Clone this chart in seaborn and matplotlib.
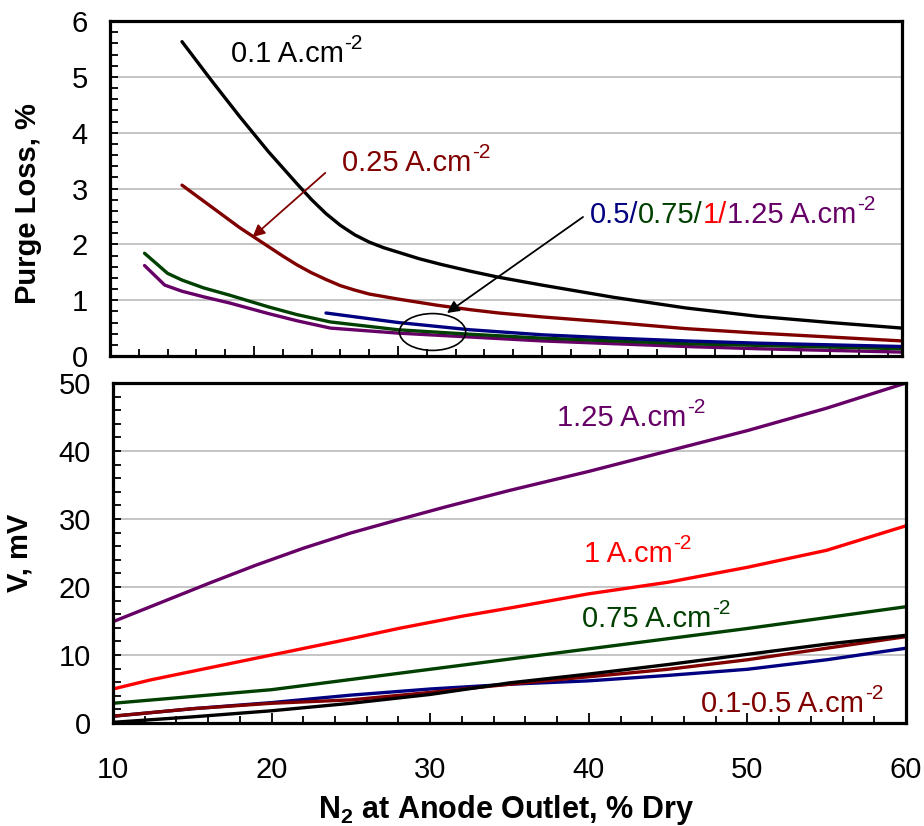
import numpy as np
import pandas as pd
import matplotlib
matplotlib.use("Agg")
import matplotlib.pyplot as plt
import seaborn as sns
from matplotlib.patches import Ellipse
from matplotlib.ticker import FixedLocator

# ---------------- data: top panel (purge loss, %) ----------------
top_x_01 = [10, 12, 14, 16, 17, 18, 19, 20, 21, 22, 23, 24, 25, 26.5, 28, 30, 32, 35, 40, 45, 50, 55, 60]
top_y_01 = [5.63, 4.95, 4.29, 3.66, 3.37, 3.08, 2.80, 2.55, 2.34, 2.17, 2.04, 1.94, 1.86, 1.74, 1.64,
            1.52, 1.41, 1.27, 1.05, 0.86, 0.71, 0.60, 0.50]

top_x_025 = [10, 12, 14, 15, 16, 17, 18, 19, 20, 21, 22, 23, 25, 27.7, 30, 32, 35, 40, 45, 50, 55, 60]
top_y_025 = [3.06, 2.68, 2.30, 2.13, 1.96, 1.79, 1.63, 1.49, 1.37, 1.26, 1.18, 1.11, 1.02, 0.91, 0.83,
             0.77, 0.70, 0.60, 0.49, 0.41, 0.34, 0.27]

top_x_05 = [20, 25, 30, 35, 40, 45, 50, 55, 60]
top_y_05 = [0.77, 0.60, 0.47, 0.38, 0.32, 0.27, 0.23, 0.20, 0.17]

top_x_075 = [7.4, 9.0, 10, 11.5, 13.3, 16, 18, 20.3, 25, 30, 35, 40, 45, 50, 55, 60]
top_y_075 = [1.84, 1.48, 1.36, 1.22, 1.09, 0.88, 0.74, 0.61, 0.47, 0.39, 0.32, 0.27, 0.22, 0.19, 0.16, 0.13]

top_x_125 = [7.4, 8.8, 10, 11.5, 13.3, 16, 18, 20.3, 25, 30, 35, 40, 45, 50, 55, 60]
top_y_125 = [1.62, 1.27, 1.16, 1.06, 0.95, 0.76, 0.63, 0.50, 0.41, 0.34, 0.27, 0.22, 0.17, 0.13, 0.10, 0.07]

# ---------------- data: bottom panel (V, mV) ----------------
bot_x = [10, 15, 20, 25, 30, 35, 40, 45, 50, 55, 60]
bot_y_01 = [0.1, 0.9, 1.8, 2.9, 4.2, 5.9, 7.2, 8.6, 10.1, 11.6, 12.9]
bot_y_025 = [1.0, 2.1, 2.9, 3.4, 4.5, 5.7, 6.8, 7.9, 9.3, 11.0, 12.7]
bot_y_05 = [1.0, 2.1, 3.0, 4.1, 5.0, 5.7, 6.2, 7.0, 7.9, 9.3, 11.0]
bot_y_075 = [2.9, 3.9, 4.9, 6.4, 7.9, 9.4, 10.9, 12.4, 13.9, 15.5, 17.1]

bot_x_1 = [10, 12.3, 15, 20, 25, 28, 32, 35, 40, 45, 50, 55, 60]
bot_y_1 = [5.0, 6.3, 7.6, 10.0, 12.4, 13.9, 15.7, 16.9, 19.0, 20.7, 22.9, 25.4, 29.0]

bot_x_125 = [10, 13, 16, 19, 22, 25, 28, 31, 35, 40, 45, 50, 55, 60]
bot_y_125 = [14.9, 17.7, 20.5, 23.2, 25.7, 27.95, 29.9, 31.8, 34.2, 37.0, 40.0, 43.0, 46.3, 50.0]

top_yticks = [0, 1, 2, 3, 4, 5, 6]
bot_yticks = [0, 10, 20, 30, 40, 50]
bot_xticks = [10, 20, 30, 40, 50, 60]

# ---------------- style ----------------
sns.set_style("white")
plt.rcParams['font.family'] = ['Liberation Sans', 'DejaVu Sans']
plt.rcParams['mathtext.default'] = 'regular'
for k in ('text.color', 'axes.labelcolor', 'xtick.color', 'ytick.color'):
    plt.rcParams[k] = 'black'

C_BLACK = '#000000'
C_DRED = '#800000'
C_BLUE = '#000080'
C_GREEN = '#004000'
C_RED = '#ff0000'
C_PURP = '#660066'
LW = 2.4
FS = 21
TFS = 21
SFS = 15

fig = plt.figure(figsize=(9.24, 8.26), dpi=100)
ax1 = fig.add_axes([110/924, 1-356/826, 792/924, 335/826])
ax2 = fig.add_axes([113/924, 1-723/826, 793/924, 340/826])

def line(ax, xs, ys, c):
    df = pd.DataFrame({'x': xs, 'y': ys})
    sns.lineplot(data=df, x='x', y='y', ax=ax, color=c, lw=LW, sort=False,
                 estimator=None, legend=False)

# top panel
line(ax1, top_x_125, top_y_125, C_PURP)
line(ax1, top_x_075, top_y_075, C_GREEN)
line(ax1, top_x_05, top_y_05, C_BLUE)
line(ax1, top_x_025, top_y_025, C_DRED)
line(ax1, top_x_01, top_y_01, C_BLACK)

# bottom panel
line(ax2, bot_x_125, bot_y_125, C_PURP)
line(ax2, bot_x_1, bot_y_1, C_RED)
line(ax2, bot_x, bot_y_075, C_GREEN)
line(ax2, bot_x, bot_y_05, C_BLUE)
line(ax2, bot_x, bot_y_025, C_DRED)
line(ax2, bot_x, bot_y_01, C_BLACK)

# axes formatting
ax1.set_xlim(5, 60)
ax1.set_ylim(0, 6)
ax2.set_xlim(10, 60)
ax2.set_ylim(0, 50)

for ax in (ax1, ax2):
    for s in ax.spines.values():
        s.set_visible(True)
        s.set_linewidth(2.3)
        s.set_color('black')
    ax.set_axisbelow(True)

ax1.yaxis.set_major_locator(FixedLocator(top_yticks))
ax1.yaxis.set_minor_locator(FixedLocator(np.arange(0, 6.01, 0.2)))
ax1.xaxis.set_major_locator(FixedLocator(np.arange(5, 61, 10)))
ax1.xaxis.set_minor_locator(FixedLocator(np.arange(5, 61, 2)))
ax1.set_xticklabels([])
ax1.grid(axis='y', which='major', color='#c0c0c0', lw=1.3)
ax1.grid(axis='x', visible=False)

ax2.yaxis.set_major_locator(FixedLocator(bot_yticks))
ax2.yaxis.set_minor_locator(FixedLocator(np.arange(0, 50.1, 2)))
ax2.xaxis.set_major_locator(FixedLocator(bot_xticks))
ax2.xaxis.set_minor_locator(FixedLocator(np.arange(10, 61, 2)))
ax2.grid(axis='y', which='major', color='#c0c0c0', lw=1.3)
ax2.grid(axis='x', visible=False)

for ax in (ax1, ax2):
    ax.tick_params(axis='both', which='both', direction='in', color='black',
                   width=1.3, labelsize=FS, labelcolor='black',
                   bottom=True, left=True, top=False, right=False)
    ax.tick_params(axis='y', which='major', length=6, pad=16)
    ax.tick_params(axis='y', which='minor', length=6)
    ax.tick_params(axis='x', which='major', length=7, pad=24)
    ax.tick_params(axis='x', which='minor', length=5)

ax1.set_xlabel('')
ax1.set_ylabel('Purge Loss, %', fontsize=FS, fontweight='bold')
ax1.yaxis.set_label_coords(-0.086, 0.455)
ax2.set_ylabel('V, mV', fontsize=FS, fontweight='bold')
ax2.yaxis.set_label_coords(-0.10, 0.5)
ax2.set_xlabel(r'N$_{2}$ at Anode Outlet, % Dry', fontsize=22, fontweight='bold')
ax2.xaxis.set_label_coords(0.495, -0.205)

SUP_OFF = 10.6  # points, from bottom of main text bbox


def sup(ax, anchor, color):
    return ax.annotate('-2', xy=(1, 0), xycoords=anchor, xytext=(0.5, SUP_OFF),
                       textcoords='offset points', va='bottom', ha='left',
                       fontsize=SFS, color=color)


def label(ax, x, y, main, color):
    t = ax.text(x, y, main, color=color, fontsize=TFS, va='baseline', ha='left')
    sup(ax, t, color)
    return t

# top annotations
label(ax1, 13.4, 5.27, '0.1 A.cm', C_BLACK)
label(ax1, 21.1, 3.32, '0.25 A.cm', C_DRED)
ax1.annotate('', xy=(14.9, 2.13), xytext=(19.95, 3.28),
             arrowprops=dict(arrowstyle='-|>', color=C_DRED, lw=1.3, mutation_scale=18,
                             shrinkA=0, shrinkB=0))
ax1.annotate('', xy=(28.4, 0.77), xytext=(37.85, 2.49),
             arrowprops=dict(arrowstyle='-|>', color='black', lw=1.3, mutation_scale=18,
                             shrinkA=0, shrinkB=0))
ax1.add_patch(Ellipse((27.4, 0.43), 4.6, 0.66, fill=False, ec='black', lw=1.2, zorder=5))

pieces = [('0.5/', C_BLUE), ('0.75/', C_GREEN), ('1/', C_RED), ('1.25 A.cm', C_PURP)]
prev = ax1.text(38.3, 2.38, pieces[0][0], color=pieces[0][1], fontsize=TFS,
                va='baseline', ha='left')
for txt, col in pieces[1:]:
    prev = ax1.annotate(txt, xy=(1, 0), xycoords=prev, color=col, fontsize=TFS,
                        va='bottom', ha='left')
sup(ax1, prev, C_PURP)

# bottom annotations
label(ax2, 38.0, 43.7, '1.25 A.cm', C_PURP)
label(ax2, 39.7, 23.7, '1 A.cm', C_RED)
label(ax2, 39.6, 14.1, '0.75 A.cm', C_GREEN)
label(ax2, 47.1, 1.6, '0.1-0.5 A.cm', C_DRED)

fig.savefig('out.png', dpi=100)
